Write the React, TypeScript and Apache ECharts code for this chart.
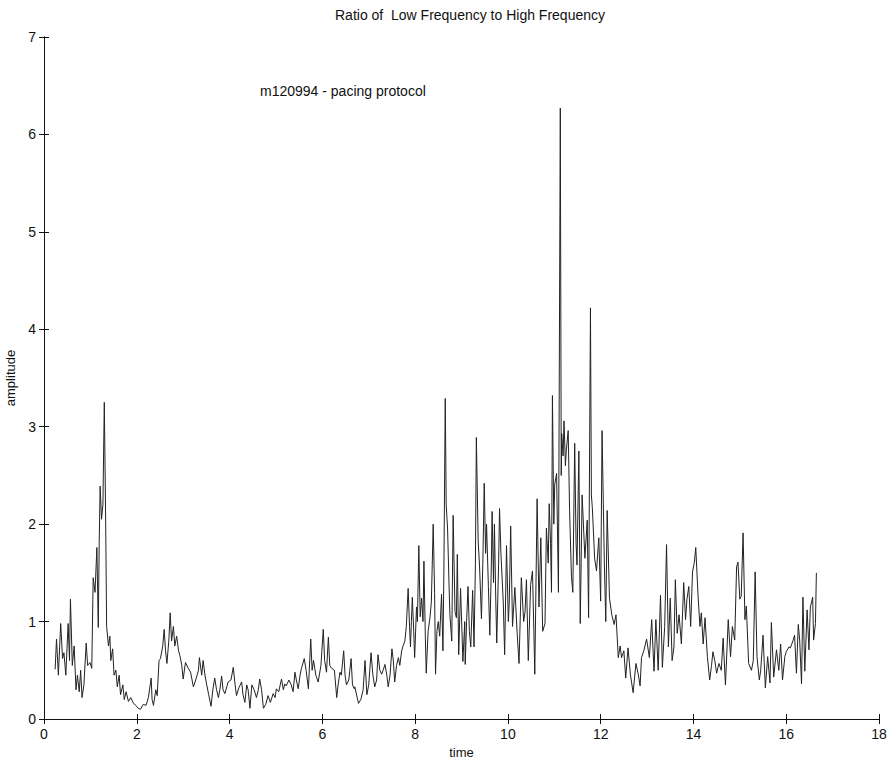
import React, { useEffect, useRef } from "react";
import * as echarts from "echarts";

const titleText = "Ratio of  Low Frequency to High Frequency";
const annotation = "m120994 - pacing protocol";
const xTicks = [0, 2, 4, 6, 8, 10, 12, 14, 16, 18];
const yTicks = [0, 1, 2, 3, 4, 5, 6, 7];

// [time, amplitude] samples, segment by segment
const earlyPeak: [number, number][] = [
  [0.24, 0.51], [0.27, 0.82], [0.31, 0.45], [0.36, 0.98], [0.4, 0.62], [0.43, 0.68], [0.47, 0.45],
  [0.52, 0.98], [0.55, 0.6], [0.57, 1.23], [0.61, 0.55], [0.65, 0.75], [0.69, 0.3], [0.72, 0.45],
  [0.76, 0.28], [0.79, 0.5], [0.82, 0.22], [0.86, 0.35], [0.91, 0.78], [0.94, 0.55], [0.99, 0.58],
  [1.03, 0.52], [1.06, 1.45], [1.1, 1.3], [1.14, 1.76], [1.17, 0.94], [1.19, 1.8], [1.21, 2.39],
  [1.24, 2.05], [1.27, 2.2], [1.3, 3.25], [1.33, 2.0], [1.35, 0.95], [1.39, 0.75], [1.42, 0.85],
  [1.44, 0.6], [1.48, 0.72], [1.51, 0.45], [1.55, 0.5], [1.58, 0.33], [1.62, 0.45], [1.65, 0.25],
  [1.7, 0.35], [1.73, 0.2], [1.77, 0.28], [1.82, 0.18], [1.87, 0.22], [1.93, 0.16], [1.98, 0.14],
  [2.03, 0.11], [2.08, 0.1], [2.14, 0.15], [2.2, 0.14], [2.25, 0.22], [2.31, 0.42], [2.33, 0.2],
  [2.36, 0.14], [2.41, 0.3], [2.44, 0.24], [2.48, 0.6], [2.51, 0.62], [2.56, 0.75], [2.59, 0.92],
  [2.62, 0.7], [2.65, 0.57], [2.69, 0.8], [2.72, 1.09], [2.75, 0.8], [2.79, 0.95], [2.82, 0.75],
  [2.86, 0.85], [2.9, 0.7], [2.93, 0.65], [2.97, 0.55], [3.0, 0.41], [3.05, 0.58], [3.11, 0.52],
  [3.16, 0.48], [3.22, 0.33], [3.27, 0.4], [3.33, 0.5], [3.35, 0.63],
];

const quietTrough: [number, number][] = [
  [3.4, 0.45], [3.43, 0.6], [3.47, 0.45], [3.5, 0.37], [3.55, 0.25], [3.6, 0.13], [3.64, 0.3],
  [3.68, 0.42], [3.72, 0.3], [3.76, 0.22], [3.79, 0.3], [3.83, 0.44], [3.86, 0.3], [3.9, 0.26],
  [3.94, 0.33], [3.97, 0.38], [4.03, 0.4], [4.08, 0.53], [4.12, 0.35], [4.15, 0.24], [4.2, 0.32],
  [4.26, 0.38], [4.29, 0.25], [4.33, 0.17], [4.37, 0.35], [4.4, 0.3], [4.44, 0.11], [4.48, 0.35],
  [4.53, 0.3], [4.58, 0.22], [4.62, 0.3], [4.65, 0.41], [4.69, 0.3], [4.73, 0.11], [4.78, 0.15],
  [4.83, 0.24], [4.88, 0.17], [4.94, 0.26], [4.98, 0.22], [5.01, 0.31], [5.06, 0.28], [5.12, 0.41],
  [5.16, 0.3], [5.19, 0.36], [5.22, 0.34], [5.28, 0.4], [5.33, 0.35], [5.37, 0.28], [5.41, 0.48],
  [5.44, 0.4], [5.48, 0.31], [5.52, 0.45], [5.55, 0.52], [5.61, 0.62], [5.65, 0.5], [5.7, 0.31],
  [5.75, 0.82], [5.78, 0.5], [5.81, 0.6], [5.86, 0.45], [5.91, 0.38], [5.97, 0.55], [6.02, 0.92],
  [6.05, 0.6], [6.09, 0.48], [6.13, 0.84], [6.16, 0.55], [6.2, 0.52], [6.26, 0.5], [6.31, 0.22],
  [6.34, 0.35], [6.38, 0.48], [6.41, 0.45], [6.46, 0.7], [6.49, 0.45], [6.52, 0.35], [6.57, 0.4],
  [6.62, 0.62], [6.65, 0.35], [6.69, 0.31],
];

const riseSegment: [number, number][] = [
  [6.7, 0.33], [6.78, 0.16], [6.83, 0.2], [6.88, 0.3], [6.92, 0.6], [6.96, 0.25], [7.0, 0.35],
  [7.05, 0.68], [7.09, 0.45], [7.13, 0.33], [7.17, 0.4], [7.2, 0.66], [7.24, 0.5], [7.28, 0.46],
  [7.31, 0.5], [7.35, 0.56], [7.39, 0.45], [7.42, 0.33], [7.46, 0.45], [7.5, 0.72], [7.53, 0.6],
  [7.56, 0.38], [7.6, 0.55], [7.64, 0.63], [7.67, 0.55], [7.71, 0.7], [7.74, 0.75], [7.78, 0.8],
  [7.81, 0.95], [7.85, 1.34], [7.88, 0.95], [7.9, 0.74], [7.92, 1.0], [7.94, 1.25], [7.97, 0.9],
  [7.99, 0.63], [8.03, 1.15], [8.05, 1.0], [8.08, 1.78], [8.11, 1.05], [8.14, 1.24], [8.17, 1.0],
  [8.19, 1.62], [8.22, 0.85], [8.24, 0.47], [8.28, 0.9], [8.32, 1.04], [8.35, 1.2], [8.39, 2.0],
  [8.42, 1.3], [8.44, 0.46], [8.47, 0.9], [8.5, 1.0], [8.53, 0.85], [8.57, 1.28], [8.6, 0.7],
  [8.62, 1.5], [8.65, 3.29], [8.67, 2.2], [8.7, 1.95], [8.73, 1.4], [8.75, 1.07], [8.79, 0.8],
  [8.82, 2.09], [8.86, 1.1], [8.89, 1.04], [8.91, 1.69], [8.94, 0.66], [8.98, 1.34], [9.01, 0.9],
  [9.03, 0.59], [9.07, 1.0], [9.08, 0.56], [9.11, 1.0], [9.14, 1.36], [9.17, 0.9], [9.2, 0.74],
  [9.24, 1.32], [9.27, 0.74], [9.3, 1.6], [9.32, 2.89], [9.36, 1.82], [9.39, 1.56], [9.43, 1.03],
  [9.46, 1.6], [9.49, 2.42], [9.52, 1.7], [9.54, 2.0], [9.58, 1.36], [9.61, 0.86], [9.64, 1.5],
  [9.66, 2.13], [9.69, 1.4], [9.71, 2.0], [9.74, 1.2], [9.76, 0.78], [9.8, 1.6], [9.82, 2.16],
  [9.85, 1.7], [9.87, 1.5], [9.9, 1.2], [9.93, 0.66],
];

const burstSegment: [number, number][] = [
  [9.97, 1.78], [10.01, 1.0], [10.03, 1.2], [10.06, 1.98], [10.1, 0.95], [10.15, 1.35], [10.2, 0.88],
  [10.24, 0.57], [10.29, 1.45], [10.34, 1.0], [10.37, 1.1], [10.4, 1.43], [10.44, 0.6], [10.49, 1.38],
  [10.53, 1.52], [10.56, 0.9], [10.58, 0.46], [10.63, 2.26], [10.67, 1.15], [10.71, 1.86], [10.75, 0.9],
  [10.8, 0.98], [10.83, 1.96], [10.87, 1.6], [10.89, 2.21], [10.92, 1.8], [10.94, 1.3], [10.96, 3.32],
  [10.99, 2.0], [11.01, 2.41], [11.05, 2.52], [11.09, 1.3], [11.13, 6.27], [11.15, 2.5], [11.16, 2.93],
  [11.19, 2.7], [11.21, 3.06], [11.24, 2.6], [11.26, 2.76], [11.3, 2.96], [11.33, 2.14], [11.37, 1.46],
  [11.4, 1.3], [11.44, 2.83], [11.47, 1.8], [11.49, 1.58], [11.53, 2.75], [11.56, 0.98], [11.6, 2.3],
  [11.66, 1.65], [11.71, 2.04], [11.74, 1.04], [11.78, 4.22], [11.8, 2.3], [11.82, 2.17], [11.87, 1.65],
  [11.91, 1.52], [11.96, 1.86], [12.0, 1.21], [12.03, 2.96], [12.08, 1.58], [12.11, 1.0], [12.14, 2.14],
  [12.19, 1.24], [12.24, 1.07], [12.29, 0.97], [12.33, 1.07], [12.38, 0.63], [12.42, 0.75], [12.45, 0.63],
  [12.5, 0.7], [12.54, 0.42], [12.59, 0.73], [12.64, 0.46], [12.7, 0.27], [12.76, 0.57], [12.81, 0.46],
  [12.85, 0.34], [12.88, 0.63], [12.93, 0.7], [12.99, 0.82], [13.05, 0.63],
];

const recoverySegment: [number, number][] = [
  [13.1, 1.02], [13.15, 0.49], [13.19, 1.02], [13.24, 0.5], [13.29, 1.27], [13.33, 0.53], [13.38, 0.95],
  [13.42, 1.79], [13.46, 0.74], [13.5, 1.24], [13.54, 0.6], [13.58, 0.74], [13.61, 1.43], [13.65, 0.88],
  [13.69, 1.07], [13.74, 0.77], [13.79, 1.4], [13.83, 1.02], [13.86, 1.23], [13.9, 1.36], [13.94, 0.95],
  [13.98, 1.51], [14.02, 1.61], [14.05, 1.76], [14.1, 1.26], [14.14, 0.95], [14.17, 1.09], [14.21, 0.77],
  [14.25, 1.04], [14.3, 0.64], [14.35, 0.4], [14.39, 0.55], [14.42, 0.69], [14.46, 0.6], [14.5, 0.47],
  [14.55, 0.57], [14.6, 0.5], [14.64, 0.83], [14.69, 0.35], [14.75, 1.02], [14.8, 0.64], [14.84, 0.95],
  [14.89, 0.81], [14.93, 1.56], [14.96, 1.61], [15.0, 1.23], [15.03, 1.26], [15.07, 1.91], [15.11, 1.02],
  [15.14, 1.16], [15.19, 0.57], [15.25, 0.5], [15.29, 0.6], [15.33, 1.51], [15.37, 0.64], [15.42, 0.4],
  [15.45, 0.5], [15.5, 0.86], [15.55, 0.32], [15.6, 0.64], [15.65, 0.37], [15.68, 0.99], [15.73, 0.43],
  [15.79, 0.71], [15.84, 0.5], [15.88, 0.77], [15.92, 0.4], [15.97, 0.64], [16.0, 0.69], [16.06, 0.74],
  [16.09, 0.73], [16.15, 0.81], [16.18, 0.86], [16.22, 0.47], [16.26, 0.97], [16.29, 0.81], [16.33, 0.36],
  [16.36, 1.25], [16.4, 0.49], [16.45, 1.12], [16.49, 0.71], [16.52, 1.15], [16.57, 1.25], [16.59, 0.81],
  [16.63, 0.98], [16.65, 1.5],
];

const FONT = "'Liberation Sans', Arial, sans-serif";

export default function App() {
  const ref = useRef<HTMLDivElement>(null);
  useEffect(() => {
    if (!ref.current) return;
    const chart = echarts.init(ref.current, null, { renderer: "svg" });
    const series = [...earlyPeak, ...quietTrough, ...riseSegment, ...burstSegment, ...recoverySegment];
    const axisLine = { show: true, lineStyle: { color: "#111", width: 1 } };
    const tick = { show: true, inside: true, length: 5, lineStyle: { color: "#111", width: 1 } };
    chart.setOption({
      animation: false,
      backgroundColor: "#ffffff",
      title: {
        text: titleText,
        left: 465,
        top: 3,
        textAlign: "center",
        textStyle: { fontFamily: FONT, fontSize: 14, fontWeight: "normal", color: "#111" },
      },
      grid: { left: 44, right: 12, top: 37, bottom: 47, containLabel: false, outerBoundsMode: "none" },
      xAxis: [
        {
          type: "value",
          min: xTicks[0],
          max: xTicks[xTicks.length - 1],
          interval: 2,
          name: "time",
          nameLocation: "middle",
          nameGap: 27,
          nameTextStyle: { fontFamily: FONT, fontSize: 13, color: "#111" },
          axisLine,
          axisTick: tick,
          splitLine: { show: false },
          axisLabel: { fontFamily: FONT, fontSize: 14, color: "#111", margin: 8 },
        },
        {
          type: "value",
          position: "top",
          min: xTicks[0],
          max: xTicks[xTicks.length - 1],
          interval: 2,
          axisLine,
          axisTick: tick,
          splitLine: { show: false },
          axisLabel: { show: false },
        },
      ],
      yAxis: [
        {
          type: "value",
          min: yTicks[0],
          max: yTicks[yTicks.length - 1],
          interval: 1,
          name: "amplitude",
          nameLocation: "middle",
          nameGap: 22,
          nameTextStyle: { fontFamily: FONT, fontSize: 13, color: "#111" },
          axisLine,
          axisTick: tick,
          splitLine: { show: false },
          axisLabel: { fontFamily: FONT, fontSize: 14, color: "#111", margin: 8 },
        },
        {
          type: "value",
          position: "right",
          min: yTicks[0],
          max: yTicks[yTicks.length - 1],
          interval: 1,
          axisLine,
          axisTick: tick,
          splitLine: { show: false },
          axisLabel: { show: false },
        },
      ],
      graphic: [
        {
          type: "text",
          left: 260,
          top: 84,
          style: { text: annotation, fontFamily: FONT, fontSize: 14, fill: "#111" },
        },
      ],
      series: [
        {
          type: "line",
          data: series,
          xAxisIndex: 0,
          yAxisIndex: 0,
          showSymbol: false,
          symbol: "none",
          lineStyle: { color: "#222", width: 1 },
        },
      ],
    });
    return () => chart.dispose();
  }, []);
  return (
    <div
      ref={ref}
      style={{ position: "fixed", left: 0, top: 0, width: 891, height: 766, background: "#fff" }}
    />
  );
}
